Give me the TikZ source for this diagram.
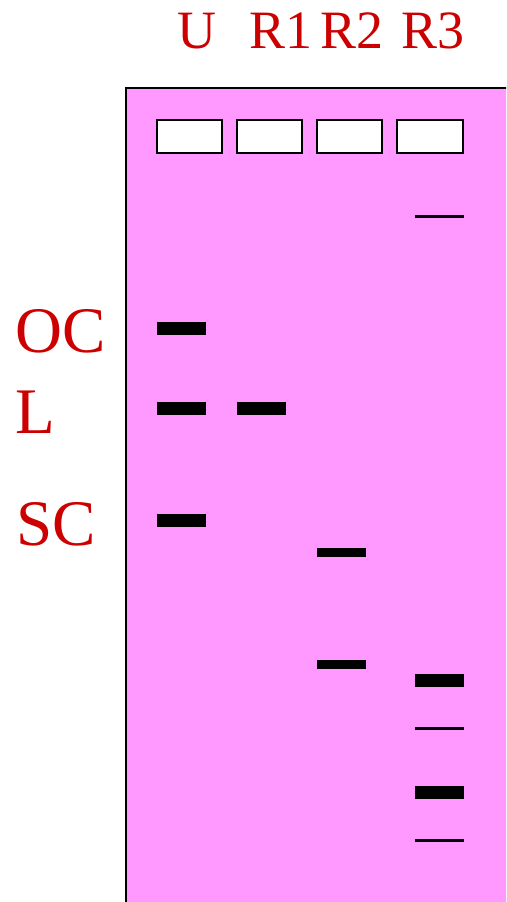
\documentclass[tikz,border=0pt]{standalone}
\usepackage{fontspec}
\setmainfont{Liberation Serif}
\definecolor{gelpink}{HTML}{FF99FF}
\definecolor{lblred}{HTML}{CC0000}
\tikzset{
  lane/.style={text=lblred, font=\fontsize{54}{54}\selectfont, anchor=base, inner sep=0pt},
  form/.style={text=lblred, font=\fontsize{65}{65}\selectfont, anchor=base west, inner sep=0pt},
  well/.style={draw, line width=1.6pt, fill=white},
  band/.style={fill=black},
}
\begin{document}
\begin{tikzpicture}[x=1pt,y=-1pt]
    \useasboundingbox (0,0) rectangle (506,902);
    \clip (0,0) rectangle (506,902);

    % gel
    \draw[line width=2pt, fill=gelpink] (126,88) rectangle (530,930);

    % lane labels
    \node[lane] (u)  at (197,48) {U};
    \node[lane] (r1) at (281,48) {R1};
    \node[lane] (r2) at (352,48) {R2};
    \node[lane] (r3) at (433,48) {R3};

    % DNA forms
    \node[form] (oc) at (15,352) {OC};
    \node[form] (l)  at (15,433) {L};
    \node[form] (sc) at (16,545) {SC};

    % wells
    \draw[well] (157,120) rectangle (222,153);
    \draw[well] (237,120) rectangle (302,153);
    \draw[well] (317,120) rectangle (382,153);
    \draw[well] (397,120) rectangle (463,153);

    % U
    \fill[band] (157,322) rectangle (206,335);
    \fill[band] (157,402) rectangle (206,415);
    \fill[band] (157,514) rectangle (206,527);
    % R1
    \fill[band] (237,402) rectangle (286,415);
    % R2
    \fill[band] (317,548) rectangle (366,557);
    \fill[band] (317,660) rectangle (366,669);
    % R3
    \fill[band] (415,215) rectangle (464,218);
    \fill[band] (415,674) rectangle (464,687);
    \fill[band] (415,727) rectangle (464,730);
    \fill[band] (415,786) rectangle (464,799);
    \fill[band] (415,839) rectangle (464,842);
\end{tikzpicture}
\end{document}
